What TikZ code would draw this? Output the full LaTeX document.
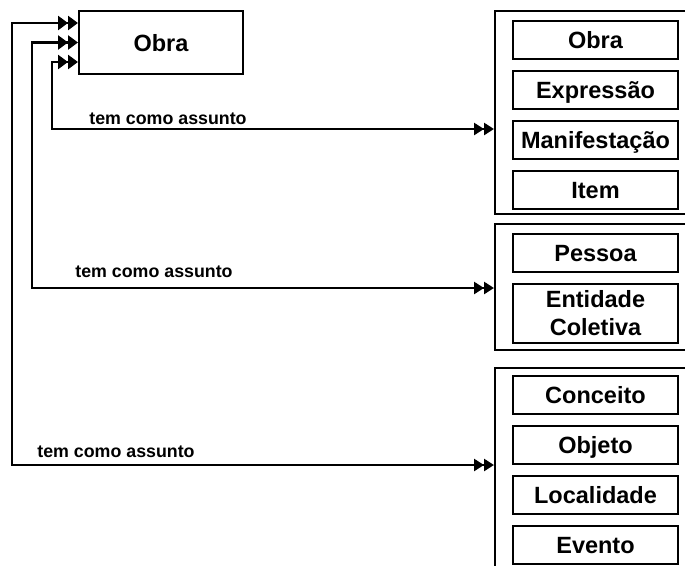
\documentclass[tikz,border=0pt]{standalone}
\usepackage{fontspec}
\setmainfont{Liberation Sans}
\usetikzlibrary{arrows.meta, positioning}

\begin{document}
\begin{tikzpicture}[x=1pt, y=-1pt, font=\bfseries]
  \tikzset{
    ent/.style={
      draw=black,
      line width=2pt,
      inner sep=0pt,
      font=\fontsize{23.5pt}{28pt}\selectfont\bfseries,
      text centered},
    item/.style={
      ent,
      text height=17pt,
      text depth=0pt,
      minimum width=165pt,
      minimum height=38pt},
    item2/.style={
      ent,
      align=center,
      minimum width=165pt,
      minimum height=59pt},
    grp/.style={
      draw=black,
      line width=2pt,
      anchor=north west,
      minimum width=200pt},
    lbl/.style={
      font=\fontsize{17.8pt}{20pt}\selectfont\bfseries},
    link/.style={
      line width=2.6pt,
      {Triangle[length=10pt,width=14pt]Triangle[length=10pt,width=14pt]}-{Triangle[length=10pt,width=12pt]Triangle[length=10pt,width=12pt]}}}

  \clip (0,0) rectangle (685,565);

  \node[ent, text height=17pt, text depth=0pt, minimum width=164pt, minimum height=63pt] (obra) at (161,42.5) {Obra};

  % grupos
  \node[grp, minimum height=203pt] (g1) at (494,10) {};
  \node[grp, minimum height=126pt] (g2) at (494,223) {};
  \node[grp, minimum height=220pt] (g3) at (494,367) {};

  \node[item] (wobra) at (595.5,40) {Obra};
  \node[item] (expr) [below=10pt of wobra] {Expressão};
  \node[item] (manif) [below=10pt of expr] {Manifestação};
  \node[item] (itm) [below=10pt of manif] {Item};

  \node[item] (pessoa) at (595.5,252.5) {Pessoa};
  \node[item2] (entcol) [below=10pt of pessoa] {Entidade\\Coletiva};

  \node[item] (conceito) at (595.5,395) {Conceito};
  \node[item] (objeto) [below=10pt of conceito] {Objeto};
  \node[item] (local) [below=10pt of objeto] {Localidade};
  \node[item] (evento) [below=10pt of local] {Evento};

  \coordinate (c1) at (12,465);
  \coordinate (c2) at (32,288);
  \coordinate (c3) at (52,129);

  \draw[link] ([yshift=-19.5pt]obra.west) -| (c3) -- (c3 -| g1.west);
  \draw[link] (obra.west) -| (c2) -- (c2 -| g2.west);
  \draw[link] ([yshift=19.5pt]obra.west) -| (c1) -- (c1 -| g3.west);

  \node[lbl] (l1) at (168,119) {tem como assunto};
  \node[lbl] (l2) at (154,272) {tem como assunto};
  \node[lbl] (l3) at (116,452) {tem como assunto};

\end{tikzpicture}
\end{document}
